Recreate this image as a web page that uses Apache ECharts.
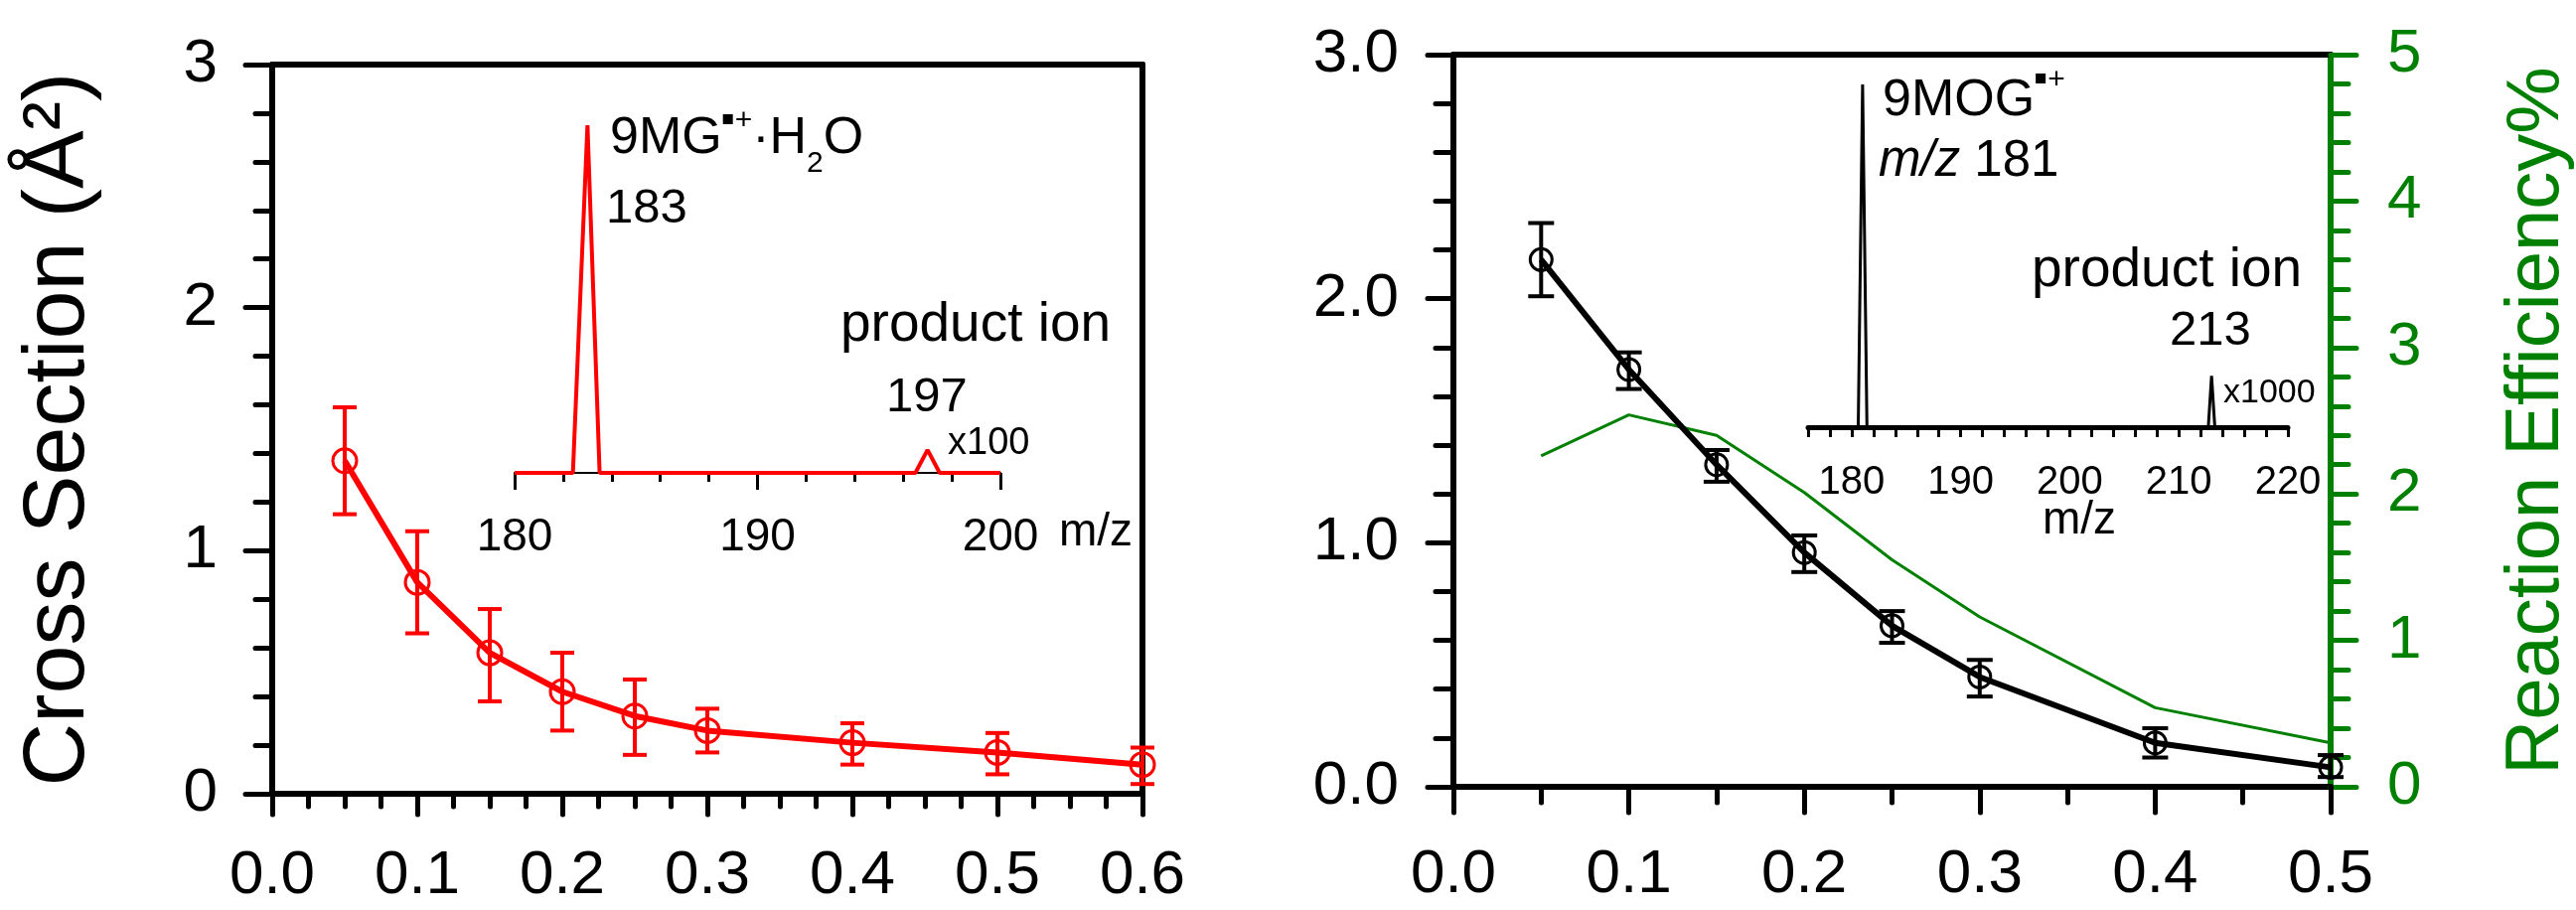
<!DOCTYPE html>
<html>
<head>
<meta charset="utf-8">
<script src="https://cdn.jsdelivr.net/npm/echarts@6/dist/echarts.min.js"></script>
<style>
    html, body { margin: 0; padding: 0; background: #fff; }
    #chart { width: 2593px; height: 916px; }
</style>
</head>
<body>
<div id="chart"></div>
<script>
// Left panel: cross section of 9MG radical cation . H2O
const csX = [0.05, 0.1, 0.15, 0.2, 0.25, 0.3, 0.4, 0.5, 0.6];
const csY = [1.37, 0.87, 0.58, 0.42, 0.32, 0.26, 0.21, 0.17, 0.12];
const csLow = [1.15, 0.66, 0.38, 0.26, 0.16, 0.17, 0.12, 0.08, 0.04];
const csHigh = [1.59, 1.08, 0.76, 0.58, 0.47, 0.35, 0.29, 0.25, 0.19];

// Right panel: 9MOG radical cation, cross section + reaction efficiency
const moX = [0.05, 0.1, 0.15, 0.2, 0.25, 0.3, 0.4, 0.5];
const moY = [2.16, 1.71, 1.32, 0.96, 0.66, 0.45, 0.18, 0.08];
const moLow = [2.01, 1.63, 1.25, 0.88, 0.59, 0.37, 0.12, 0.04];
const moHigh = [2.31, 1.78, 1.38, 1.03, 0.72, 0.52, 0.24, 0.13];
const effY = [2.26, 2.54, 2.40, 2.01, 1.55, 1.16, 0.54, 0.30];

// Inset mass spectra (relative intensity, main peak = 100)
const specLeftMz = [180, 182.4, 183, 183.5, 196.5, 197, 197.5, 200];
const specLeftInt = [0, 0, 100, 0, 0, 6.6, 0, 0];
const specRightMz = [176, 180.6, 181, 181.4, 212.7, 213, 213.3, 220];
const specRightInt = [0, 0, 100, 0, 0, 15, 0, 0];

const FONT = '"Liberation Sans", Arial, sans-serif';
const RED = '#ff0000';
const GREEN = '#008000';
const BLACK = '#000000';

const pairs = (xs, ys) => xs.map((x, i) => [x, ys[i]]);

function errorBars(xs, lo, hi, color, capHalf, xi, yi) {
    return {
        type: 'custom', xAxisIndex: xi, yAxisIndex: yi, z: 4, silent: true,
        data: xs.map((x, i) => [x, lo[i], hi[i]]),
        encode: { x: 0, y: [1, 2] },
        renderItem: function (params, api) {
            const a = api.coord([api.value(0), api.value(1)]);
            const b = api.coord([api.value(0), api.value(2)]);
            const style = { stroke: color, lineWidth: 4, fill: null };
            return {
                type: 'group',
                children: [
                    { type: 'line', shape: { x1: a[0], y1: a[1], x2: b[0], y2: b[1] }, style },
                    { type: 'line', shape: { x1: a[0] - capHalf, y1: a[1], x2: a[0] + capHalf, y2: a[1] }, style },
                    { type: 'line', shape: { x1: b[0] - capHalf, y1: b[1], x2: b[0] + capHalf, y2: b[1] }, style }
                ]
            };
        }
    };
}

// frame-only axis (top / right border)
function borderAxis(gridIndex, position, min, max) {
    return {
        gridIndex, position, min, max, type: 'value',
        axisLine: { show: true, onZero: false, lineStyle: { color: BLACK, width: 6 } },
        axisTick: { show: false }, axisLabel: { show: false }, splitLine: { show: false }
    };
}

function mainAxis(opts) {
    const color = opts.color || BLACK;
    return {
        type: 'value', gridIndex: opts.grid, position: opts.position,
        min: opts.min, max: opts.max, interval: opts.interval,
        axisLine: { show: true, onZero: false, lineStyle: { color, width: 6, cap: 'round' } },
        axisTick: { show: true, inside: false, length: opts.tick, lineStyle: { color, width: 5, cap: 'round' } },
        minorTick: { show: true, splitNumber: opts.minor, length: opts.minorTick, lineStyle: { color, width: 5, cap: 'round' } },
        splitLine: { show: false },
        minorSplitLine: { show: false },
        axisLabel: {
            color, fontSize: 62, fontFamily: FONT, margin: opts.margin,
            formatter: opts.fmt
        },
        name: opts.name, nameLocation: 'middle', nameGap: opts.nameGap, nameRotate: 90,
        nameTextStyle: { color, fontSize: opts.nameSize, fontFamily: FONT }
    };
}

function insetXAxis(opts) {
    return {
        type: 'value', gridIndex: opts.grid, position: 'bottom',
        min: opts.min, max: opts.max, interval: opts.interval,
        axisLine: { show: true, onZero: false, lineStyle: { color: BLACK, width: opts.lineW } },
        axisTick: { show: true, length: opts.tick, lineStyle: { color: BLACK, width: 3 } },
        minorTick: { show: opts.minor > 0, splitNumber: opts.minor || 5, length: opts.minorTick, lineStyle: { color: BLACK, width: 3 } },
        splitLine: { show: false },
        axisLabel: {
            color: BLACK, fontSize: opts.fontSize, fontFamily: FONT, margin: opts.margin,
            formatter: v => (v % 10 === 0 ? String(v) : '')
        }
    };
}

function hiddenY(gridIndex, max) {
    return { type: 'value', gridIndex, min: 0, max, show: false, splitLine: { show: false } };
}

// text placed by baseline
function txt(x, baseline, text, size, extra) {
    const e = extra || {};
    return {
        type: 'text', x, y: baseline - 0.347 * size, silent: true, z: 10,
        style: {
            text, fontSize: size, fontFamily: FONT, fontStyle: e.italic ? 'italic' : 'normal',
            fill: e.color || BLACK, align: 'left', verticalAlign: 'middle'
        }
    };
}

// a run of text pieces (super/subscripts), each piece: [text, size, baseline]
// text '#sq' draws the small filled square of the radical sign
const measure = document.createElement('canvas').getContext('2d');
function textRun(x, pieces) {
    const out = [];
    let cx = x;
    pieces.forEach(p => {
        const [t, size, base, italic] = p;
        if (t === '#sq') {
            out.push({ type: 'rect', silent: true, z: 10, shape: { x: cx + 1, y: base - 10, width: 10, height: 10 }, style: { fill: BLACK } });
            cx += 13;
            return;
        }
        out.push(txt(cx, base, t, size, { italic }));
        measure.font = (italic ? 'italic ' : '') + size + 'px ' + FONT;
        cx += measure.measureText(t).width;
    });
    return out;
}

const chart = echarts.init(document.getElementById('chart'), null, { renderer: 'canvas' });

const option = {
    backgroundColor: '#ffffff',
    animation: false,
    grid: [
        { left: 274, top: 65, width: 876, height: 734 },   // left main
        { left: 518, top: 126, width: 489, height: 350 },  // left inset
        { left: 1463, top: 55, width: 884, height: 737 },  // right main
        { left: 1820, top: 85, width: 483, height: 345 }   // right inset
    ],
    xAxis: [
        mainAxis({ grid: 0, position: 'bottom', min: 0, max: 0.6, interval: 0.1, tick: 21, minor: 4, minorTick: 13, margin: 52, fmt: v => v.toFixed(1) }),
        borderAxis(0, 'top', 0, 0.6),
        insetXAxis({ grid: 1, min: 180, max: 200, interval: 10, tick: 17, minor: 5, minorTick: 9, lineW: 2, fontSize: 46, margin: 42 }),
        mainAxis({ grid: 2, position: 'bottom', min: 0, max: 0.5, interval: 0.1, tick: 26, minor: 2, minorTick: 16, margin: 58, fmt: v => v.toFixed(1) }),
        borderAxis(2, 'top', 0, 0.5),
        insetXAxis({ grid: 3, min: 176, max: 220, interval: 2, tick: 10, minor: 0, minorTick: 0, lineW: 5, fontSize: 40, margin: 36 })
    ],
    yAxis: [
        mainAxis({ grid: 0, position: 'left', min: 0, max: 3, interval: 1, tick: 27, minor: 5, minorTick: 17, margin: 55,
            fmt: v => String(v), name: 'Cross Section (Å²)', nameGap: 170, nameSize: 88 }),
        borderAxis(0, 'right', 0, 3),
        hiddenY(1, 100),
        mainAxis({ grid: 2, position: 'left', min: 0, max: 3, interval: 1, tick: 26, minor: 5, minorTick: 18, margin: 55,
            fmt: v => v.toFixed(1) }),
        mainAxis({ grid: 2, position: 'right', min: 0, max: 5, interval: 1, tick: 26, minor: 5, minorTick: 18, margin: 57,
            color: GREEN, fmt: v => String(v), name: 'Reaction Efficiency%', nameGap: 170, nameSize: 76 }),
        hiddenY(3, 100)
    ],
    series: [
        {
            type: 'line', xAxisIndex: 0, yAxisIndex: 0, z: 3,
            data: pairs(csX, csY),
            lineStyle: { color: RED, width: 6 },
            symbol: 'circle', symbolSize: 24,
            itemStyle: { color: 'rgba(0,0,0,0)', borderColor: RED, borderWidth: 3 }
        },
        errorBars(csX, csLow, csHigh, RED, 12, 0, 0),
        {
            type: 'line', xAxisIndex: 2, yAxisIndex: 2, z: 3,
            data: pairs(specLeftMz, specLeftInt),
            lineStyle: { color: RED, width: 4 }, symbol: 'none'
        },
        {
            type: 'line', xAxisIndex: 3, yAxisIndex: 4, z: 2,
            data: pairs(moX, effY),
            lineStyle: { color: GREEN, width: 3 }, symbol: 'none'
        },
        {
            type: 'line', xAxisIndex: 3, yAxisIndex: 3, z: 3,
            data: pairs(moX, moY),
            lineStyle: { color: BLACK, width: 6 },
            symbol: 'circle', symbolSize: 22,
            itemStyle: { color: 'rgba(0,0,0,0)', borderColor: BLACK, borderWidth: 3 }
        },
        errorBars(moX, moLow, moHigh, BLACK, 13, 3, 3),
        {
            type: 'line', xAxisIndex: 5, yAxisIndex: 5, z: 3,
            data: pairs(specRightMz, specRightInt),
            lineStyle: { color: BLACK, width: 3 }, symbol: 'none'
        }
    ],
    graphic: [].concat(
        // left inset annotations
        textRun(614, [['9MG', 52, 158], ['#sq', 0, 125], ['+', 30, 132], ['·H', 52, 158], ['2', 30, 175], ['O', 52, 158]]),
        [
            txt(610, 227, '183', 49),
            txt(846, 347, 'product ion', 55),
            txt(892, 417, '197', 49),
            txt(954, 460, 'x100', 38),
            txt(1066, 552, 'm/z', 46)
        ],
        // right inset annotations
        textRun(1895, [['9MOG', 52, 120], ['#sq', 0, 84], ['+', 30, 91]]),
        textRun(1891, [['m/z', 51, 181, true], [' 181', 51, 181]]),
        [
            txt(2045, 292, 'product ion', 55),
            txt(2184, 350, '213', 49),
            txt(2238, 407, 'x1000', 34),
            txt(2056, 540, 'm/z', 46)
        ]
    )
};

chart.setOption(option);
</script>
</body>
</html>
